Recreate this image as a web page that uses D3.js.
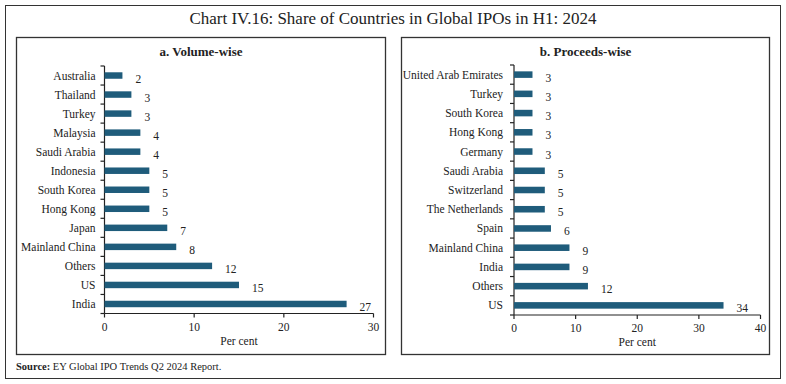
<!DOCTYPE html>
<html>
<head>
<meta charset="utf-8">
<script src="https://cdn.jsdelivr.net/npm/d3@7"></script>
<style>
  body { margin: 0; background: #fff; }
  svg text { font-family: "Liberation Serif", "Times New Roman", serif; fill: #222; }
  .cat-label { font-size: 11.5px; }
  .val-label { font-size: 11.5px; }
  .tick-label { font-size: 11.5px; }
  .axis-title { font-size: 11.5px; }
  .panel-title { font-size: 13px; font-weight: bold; }
</style>
</head>
<body>
<div id="chart"></div>
<script>
// a. Volume-wise (top to bottom)
const volumeCountries = ['Australia', 'Thailand', 'Turkey', 'Malaysia', 'Saudi Arabia', 'Indonesia',
  'South Korea', 'Hong Kong', 'Japan', 'Mainland China', 'Others', 'US', 'India'];
const volumeShare = [2, 3, 3, 4, 4, 5, 5, 5, 7, 8, 12, 15, 27];
const volumeTicks = [0, 10, 20, 30];

// b. Proceeds-wise (top to bottom)
const proceedsCountries = ['United Arab Emirates', 'Turkey', 'South Korea', 'Hong Kong', 'Germany',
  'Saudi Arabia', 'Switzerland', 'The Netherlands', 'Spain', 'Mainland China', 'India', 'Others', 'US'];
const proceedsShare = [3, 3, 3, 3, 3, 5, 5, 5, 6, 9, 9, 12, 34];
const proceedsTicks = [0, 10, 20, 30, 40];

const width = 786;
const height = 384;
const barColor = '#1f5c7b';

const svg = d3.select('#chart')
  .append('svg')
  .attr('width', width)
  .attr('height', height);

// outer frame
svg.append('rect')
  .attr('x', 5.5).attr('y', 5.5)
  .attr('width', 775).attr('height', 373)
  .attr('fill', 'none')
  .attr('stroke', '#333')
  .attr('stroke-width', 1);

svg.append('text')
  .attr('x', 393)
  .attr('y', 24)
  .attr('text-anchor', 'middle')
  .style('font-size', '17px')
  .text('Chart IV.16: Share of Countries in Global IPOs in H1: 2024');

function drawPanel(opts) {
  const g = svg.append('g');

  g.append('rect')
    .attr('x', opts.box[0]).attr('y', opts.box[1])
    .attr('width', opts.box[2]).attr('height', opts.box[3])
    .attr('fill', 'none')
    .attr('stroke', '#333')
    .attr('stroke-width', 1.3);

  g.append('text')
    .attr('class', 'panel-title')
    .attr('x', opts.box[0] + opts.box[2] / 2)
    .attr('y', 56)
    .attr('text-anchor', 'middle')
    .text(opts.title);

  const x = d3.scaleLinear()
    .domain([0, opts.max])
    .range([opts.left, opts.right]);

  const y = d3.scaleBand()
    .domain(opts.cats)
    .range([opts.top, opts.bottom])
    .padding(0);

  const barH = y.bandwidth() * 0.34;

  // category axis line and boundary ticks
  g.append('line')
    .attr('x1', x(0)).attr('x2', x(0))
    .attr('y1', opts.top).attr('y2', opts.bottom)
    .attr('stroke', '#222')
    .attr('stroke-width', 1.2);

  const bounds = d3.range(opts.cats.length + 1).map(i => opts.top + i * y.step());
  g.selectAll('.ytick')
    .data(bounds)
    .enter()
    .append('line')
    .attr('x1', x(0) - 4).attr('x2', x(0))
    .attr('y1', d => d).attr('y2', d => d)
    .attr('stroke', '#222')
    .attr('stroke-width', 1.2);

  // bars
  g.selectAll('.bar')
    .data(opts.values)
    .enter()
    .append('rect')
    .attr('x', x(0))
    .attr('y', (d, i) => y(opts.cats[i]) + y.bandwidth() / 2 - barH / 2)
    .attr('width', d => x(d) - x(0))
    .attr('height', barH)
    .attr('fill', barColor);

  // category labels
  g.selectAll('.cat-label')
    .data(opts.cats)
    .enter()
    .append('text')
    .attr('class', 'cat-label')
    .attr('x', x(0) - opts.labelGap)
    .attr('y', d => y(d) + y.bandwidth() / 2)
    .attr('dy', '0.35em')
    .attr('text-anchor', 'end')
    .text(d => d);

  // value labels
  g.selectAll('.val-label')
    .data(opts.values)
    .enter()
    .append('text')
    .attr('class', 'val-label')
    .attr('x', d => x(d) + 13)
    .attr('y', (d, i) => y(opts.cats[i]) + y.bandwidth() / 2 + 3)
    .attr('dy', '0.35em')
    .text(d => d);

  // value axis
  g.append('line')
    .attr('x1', x(0)).attr('x2', x(opts.max))
    .attr('y1', opts.bottom).attr('y2', opts.bottom)
    .attr('stroke', '#222')
    .attr('stroke-width', 1.2);

  g.selectAll('.xtick')
    .data(opts.ticks)
    .enter()
    .append('line')
    .attr('x1', d => x(d)).attr('x2', d => x(d))
    .attr('y1', opts.bottom).attr('y2', opts.bottom + 4)
    .attr('stroke', '#222')
    .attr('stroke-width', 1.2);

  g.selectAll('.tick-label')
    .data(opts.ticks)
    .enter()
    .append('text')
    .attr('class', 'tick-label')
    .attr('x', d => x(d))
    .attr('y', opts.bottom + 17)
    .attr('text-anchor', 'middle')
    .text(d => d);

  g.append('text')
    .attr('class', 'axis-title')
    .attr('x', (x(0) + x(opts.max)) / 2)
    .attr('y', opts.bottom + 31)
    .attr('text-anchor', 'middle')
    .text('Per cent');
}

drawPanel({
  box: [16.5, 37.5, 369, 317],
  title: 'a. Volume-wise',
  cats: volumeCountries,
  values: volumeShare,
  ticks: volumeTicks,
  max: 30,
  left: 104.5,
  right: 373.5,
  top: 66,
  bottom: 313.5,
  labelGap: 9
});

drawPanel({
  box: [401.5, 37.5, 368, 317],
  title: 'b. Proceeds-wise',
  cats: proceedsCountries,
  values: proceedsShare,
  ticks: proceedsTicks,
  max: 40,
  left: 514,
  right: 760.5,
  top: 65,
  bottom: 315,
  labelGap: 11
});

const source = svg.append('text')
  .attr('x', 16)
  .attr('y', 370)
  .style('font-size', '10.5px');
source.append('tspan')
  .style('font-weight', 'bold')
  .text('Source:');
source.append('tspan')
  .text(' EY Global IPO Trends Q2 2024 Report.');
</script>
</body>
</html>
